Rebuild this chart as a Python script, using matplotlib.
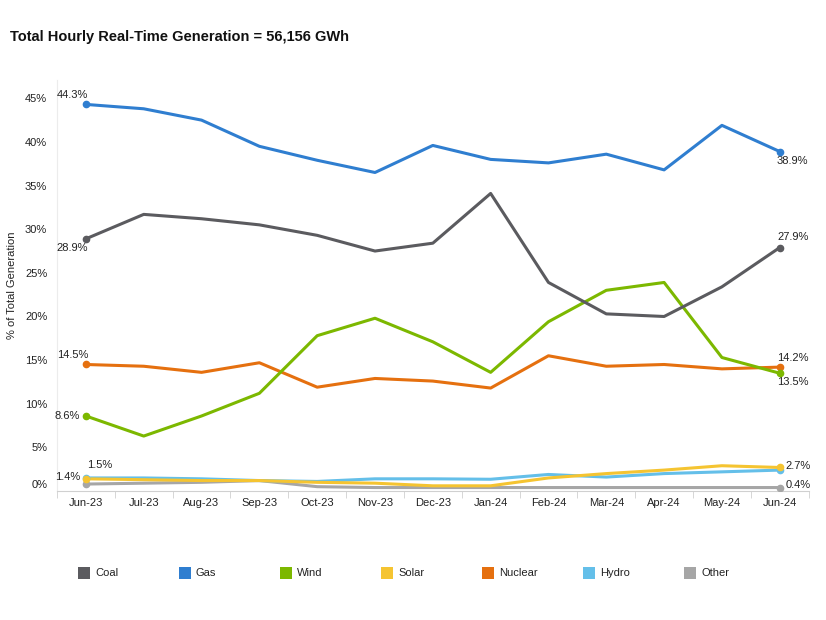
import matplotlib
matplotlib.use("Agg")
import matplotlib.pyplot as plt
import matplotlib.transforms as mtransforms
from matplotlib.patches import Rectangle
import numpy as np

plt.rcParams['font.family'] = ['Liberation Sans', 'DejaVu Sans']

# --- data ---
months = ['Jun-23', 'Jul-23', 'Aug-23', 'Sep-23', 'Oct-23', 'Nov-23', 'Dec-23',
          'Jan-24', 'Feb-24', 'Mar-24', 'Apr-24', 'May-24', 'Jun-24']
coal = [28.9, 31.7, 31.2, 30.5, 29.3, 27.5, 28.4, 34.1, 23.9, 20.3, 20.0, 23.4, 27.9]
gas = [44.3, 43.8, 42.5, 39.5, 37.9, 36.5, 39.6, 38.0, 37.6, 38.6, 36.8, 41.9, 38.9]
wind = [8.6, 6.3, 8.6, 11.2, 17.8, 19.8, 17.1, 13.6, 19.4, 23.0, 23.9, 15.3, 13.5]
solar = [1.4, 1.3, 1.2, 1.2, 1.0, 0.9, 0.6, 0.6, 1.5, 2.0, 2.4, 2.9, 2.7]
nuclear = [14.5, 14.3, 13.6, 14.7, 11.9, 12.9, 12.6, 11.8, 15.5, 14.3, 14.5, 14.0, 14.2]
hydro = [1.5, 1.5, 1.4, 1.2, 1.1, 1.4, 1.4, 1.35, 1.9, 1.6, 2.0, 2.2, 2.4]
other = [0.8, 0.9, 1.0, 1.2, 0.5, 0.4, 0.4, 0.4, 0.4, 0.4, 0.4, 0.4, 0.4]

names = ['Coal', 'Gas', 'Wind', 'Solar', 'Nuclear', 'Hydro', 'Other']
series = [coal, gas, wind, solar, nuclear, hydro, other]
colors = ['#5b5b5f', '#2f7ed0', '#7cb800', '#f5c431', '#e5700f', '#64bfe9', '#a6a6a6']

# draw order: small ones first so big lines sit on top
order = ['Other', 'Hydro', 'Solar', 'Nuclear', 'Wind', 'Coal', 'Gas']

fig = plt.figure(figsize=(8.26, 6.2), dpi=100)
ax = fig.add_axes([0.069, 0.208, 0.910, 0.663])

x = np.arange(len(months))
for nm in order:
    i = names.index(nm)
    ys = series[i]
    ax.plot(x, ys, color=colors[i], lw=2.2, solid_capstyle='round', zorder=3)
    ax.plot([x[0], x[-1]], [ys[0], ys[-1]], 'o', color=colors[i], ms=4.5, zorder=4)

lab = dict(fontsize=8, color='#222222')
def pct(v):
    return f'{v:.1f}%'

# start labels
ax.annotate(pct(gas[0]), (0, gas[0]), xytext=(-21, 3), textcoords='offset points', ha='left', va='bottom', **lab)
ax.annotate(pct(coal[0]), (0, coal[0]), xytext=(-21, -3), textcoords='offset points', ha='left', va='top', **lab)
ax.annotate(pct(nuclear[0]), (0, nuclear[0]), xytext=(-21, 3), textcoords='offset points', ha='left', va='bottom', **lab)
ax.annotate(pct(wind[0]), (0, wind[0]), xytext=(-4, 0), textcoords='offset points', ha='right', va='center', **lab)
ax.annotate(pct(hydro[0]), (0, hydro[0]), xytext=(1, 6), textcoords='offset points', ha='left', va='bottom', **lab)
ax.annotate(pct(solar[0]), (0, solar[0]), xytext=(-4, 1), textcoords='offset points', ha='right', va='center', **lab)

# end labels
n = len(months) - 1
ax.annotate(pct(gas[n]), (n, gas[n]), xytext=(-2, -3), textcoords='offset points', ha='left', va='top', **lab)
ax.annotate(pct(coal[n]), (n, coal[n]), xytext=(-2, 4), textcoords='offset points', ha='left', va='bottom', **lab)
ax.annotate(pct(nuclear[n]), (n, nuclear[n]), xytext=(-2, 3), textcoords='offset points', ha='left', va='bottom', **lab)
ax.annotate(pct(wind[n]), (n, wind[n]), xytext=(-2, -3), textcoords='offset points', ha='left', va='top', **lab)
ax.annotate(pct(solar[n]), (n, solar[n]), xytext=(4, 1), textcoords='offset points', ha='left', va='center', **lab)
ax.annotate(pct(other[n]), (n, other[n]), xytext=(4, 2), textcoords='offset points', ha='left', va='center', **lab)

ax.set_xlim(-0.5, n + 0.5)
ax.set_ylim(0, 47.1)
ax.set_yticks(np.arange(0, 46, 5))
ax.set_yticklabels([f'{v}%' for v in range(0, 46, 5)], fontsize=8, color='#222222')
ax.set_xticks(x)
ax.set_xticklabels(months, fontsize=8, color='#222222')
ax.set_xticks(np.arange(-0.5, n + 1, 1), minor=True)
ax.tick_params(axis='x', which='major', length=0, pad=5)
ax.tick_params(axis='x', which='minor', length=5, color='#d0d0d0')
ax.tick_params(axis='y', length=0, pad=7)

# the 0% label sits a little above the baseline in the original
zero_lab = ax.get_yticklabels()[0]
zero_lab.set_transform(zero_lab.get_transform() +
                       mtransforms.ScaledTranslation(0, 5 / 72, fig.dpi_scale_trans))

for s in ['top', 'right']:
    ax.spines[s].set_visible(False)
ax.spines['left'].set_color('#ececec')
ax.spines['bottom'].set_color('#d0d0d0')

ax.set_ylabel('% of Total Generation', fontsize=8, color='#222222', labelpad=6)

fig.text(10 / 826, 1 - 37 / 620, 'Total Hourly Real-Time Generation = 56,156 GWh',
         fontsize=10.5, fontweight='bold', va='center', ha='left', color='#111111')

# legend row
for i, nm in enumerate(names):
    x0 = 78 + i * 101
    fig.add_artist(Rectangle((x0 / 826, 1 - 579 / 620), 12 / 826, 12 / 620,
                             transform=fig.transFigure, facecolor=colors[i], edgecolor='none'))
    fig.text((x0 + 17) / 826, 1 - 573 / 620, nm, fontsize=8, va='center', ha='left', color='#222222')

fig.savefig('out.png', dpi=100)
